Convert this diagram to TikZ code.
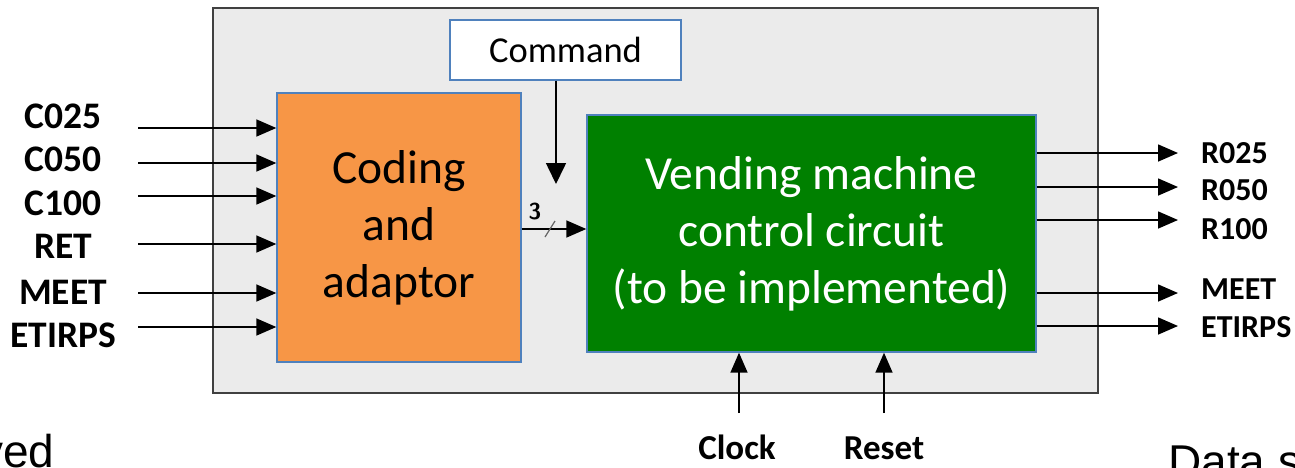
\documentclass[tikz,border=0pt]{standalone}
\usepackage{fontspec}
\setmainfont{Carlito}
\newfontfamily\arialfont{Liberation Sans}
\usetikzlibrary{arrows.meta}
\definecolor{panelgray}{HTML}{EBEBEB}
\definecolor{edgeblue}{HTML}{4F81BD}
\definecolor{codeorange}{HTML}{F79646}
\definecolor{ctrlgreen}{HTML}{008000}
\tikzset{
  sig/.style={line width=1.6pt, -{Triangle[length=20pt,width=17pt]}},
  inlabel/.style={font=\fontsize{37.5}{40}\selectfont\bfseries, anchor=center, inner sep=0pt},
  outlabel/.style={font=\fontsize{32}{34}\selectfont\bfseries, anchor=west, inner sep=0pt},
  clklabel/.style={font=\fontsize{35}{38}\selectfont\bfseries, anchor=base, inner sep=0pt},
  blockbox/.style={draw=edgeblue, line width=1.4pt, inner sep=0pt, align=center,
    font=\fontsize{47.5}{57}\selectfont}
}
\begin{document}
\begin{tikzpicture}[x=1pt,y=-1pt]
\useasboundingbox (0,0) rectangle (1295,467);
\clip (0,0) rectangle (1295,467);
% surrounding panel
\draw[fill=panelgray, draw=black!75, line width=1.4pt] (213,8) rectangle (1098,393);
% command input box
\node[draw=edgeblue, fill=white, line width=1.2pt, minimum width=231pt, minimum height=60pt,
  inner sep=0pt, font=\fontsize{36.5}{38}\selectfont] (cmd) at (565.5,50) {Command};
% blocks
\node[blockbox, fill=codeorange, minimum width=244pt, minimum height=269pt] (code) at (399,227.5)
  {Coding\\and\\adaptor};
\node[blockbox, fill=ctrlgreen, text=white, minimum width=449pt, minimum height=237pt] (ctrl) at (811.5,233.5)
  {Vending machine\\control circuit\\(to be implemented)};
% command arrow ends short of the block
\coordinate (cmdend) at (556,184);
\draw[line width=1.6pt, -{Triangle[length=21pt,width=20pt]}] (cmd.south -| cmdend) -- (cmdend);
% 3-bit bus between blocks
\draw[sig] (code.east |- 0,229) -- (ctrl.west |- 0,229);
\node[font=\fontsize{23}{24}\selectfont\bfseries\sffamily, inner sep=0pt] (bw) at (535,212) {3};
\draw[black!60, line width=1.2pt] (545,237) -- (555,221);
% inputs
\foreach \n/\t/\ly/\ay in {i1/C025/116/128, i2/C050/159/163, i3/C100/203/196,
                          i4/RET/246/244, i5/MEET/292/293, i6/ETIRPS/335/327}{
  \node[inlabel] (\n) at (63,\ly) {\t};
  \coordinate (\n s) at (138,\ay);
  \draw[sig] (\n s) -- (code.west |- \n s);
}
% outputs
\foreach \n/\t/\ly/\ay in {o1/R025/153/153, o2/R050/190/187, o3/R100/229/220,
                          o4/MEET/289/293, o5/ETIRPS/327/326}{
  \node[outlabel] (\n) at (1201,\ly) {\t};
  \coordinate (\n e) at (1178,\ay);
  \draw[sig] (ctrl.east |- \n e) -- (\n e);
}
% clock and reset
\node[clklabel] (clk) at (737,459) {Clock};
\node[clklabel] (rst) at (884,459) {Reset};
\coordinate (clks) at (739,413);
\coordinate (rsts) at (884,413);
\draw[sig] (clks) -- (ctrl.south -| clks);
\draw[sig] (rsts) -- (ctrl.south -| rsts);
% surrounding page text
\node[font=\arialfont\fontsize{46}{48}\selectfont, anchor=base west, inner sep=0pt] (pl) at (-20,467) {ved};
\node[font=\arialfont\fontsize{46}{48}\selectfont, anchor=base west, inner sep=0pt] (pr) at (1168,477) {Data s};
\end{tikzpicture}
\end{document}
